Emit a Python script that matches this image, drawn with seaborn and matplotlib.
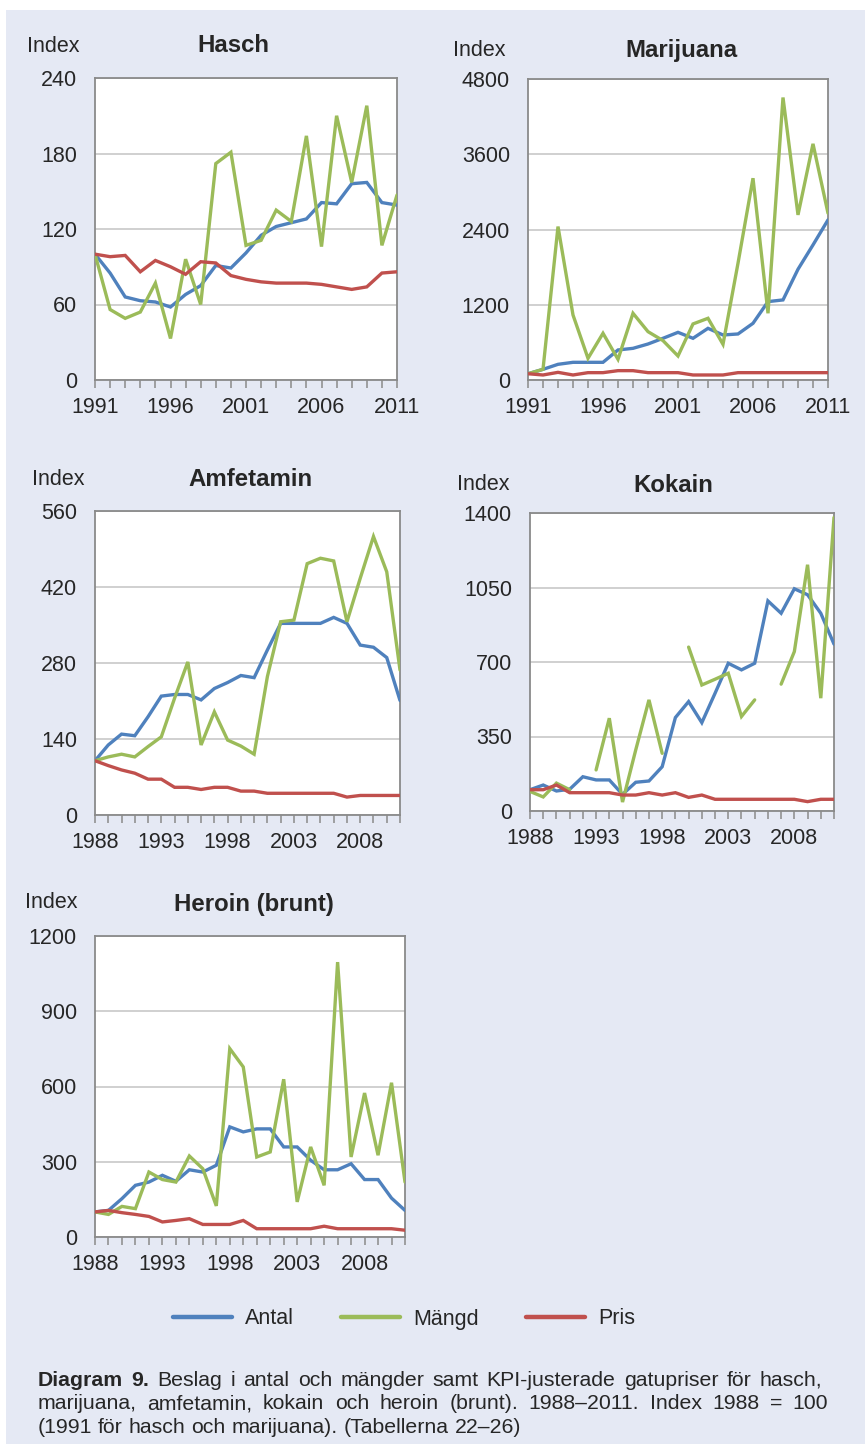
import numpy as np
import pandas as pd
import matplotlib
matplotlib.use("Agg")
import matplotlib.pyplot as plt
import seaborn as sns
from matplotlib.lines import Line2D
from matplotlib.patches import Rectangle

sns.set_style("white")
plt.rcParams['font.family'] = ['Liberation Sans', 'DejaVu Sans']

BLUE = '#4F81BD'
GREEN = '#9BBB59'
RED = '#C0504D'
BG = '#E5E9F4'
SPINE = '#8A8A8A'
GRID = '#C4C4C4'

# ---------------- data ----------------
series_names = ["Antal", "Mängd", "Pris"]
years_91 = list(range(1991, 2012))
years_88 = list(range(1988, 2012))
ticks_91 = [1991, 1996, 2001, 2006, 2011]
ticks_88 = [1988, 1993, 1998, 2003, 2008]

hasch_antal = [100, 85, 66, 63, 62, 58, 68, 75, 91, 89, 101, 115, 122, 125, 128, 141, 140, 156, 157, 141, 139]
hasch_mangd = [100, 56, 49, 54, 77, 33, 96, 60, 172, 181, 107, 111, 135, 126, 194, 106, 210, 157, 218, 107, 147]
hasch_pris = [100, 98, 99, 86, 95, 90, 84, 94, 93, 83, 80, 78, 77, 77, 77, 76, 74, 72, 74, 85, 86]

mari_antal = [100, 170, 250, 282, 282, 282, 479, 505, 574, 665, 760, 665, 824, 718, 734, 904, 1250, 1277, 1766, 2154, 2553]
mari_mangd = [100, 170, 2447, 1037, 346, 745, 330, 1064, 771, 628, 383, 894, 984, 569, 1862, 3218, 1064, 4505, 2633, 3766, 2660]
mari_pris = [100, 80, 122, 80, 117, 117, 149, 149, 117, 117, 117, 80, 80, 80, 117, 117, 117, 117, 117, 117, 117]

amf_antal = [100, 129, 149, 146, 181, 219, 222, 222, 212, 233, 244, 257, 253, 304, 353, 353, 353, 353, 364, 353, 313, 309, 290, 211]
amf_mangd = [100, 107, 112, 107, 126, 144, 215, 282, 129, 190, 138, 127, 112, 255, 356, 359, 463, 473, 468, 356, 436, 513, 448, 267]
amf_pris = [100, 91, 83, 77, 66, 66, 51, 51, 47, 51, 51, 44, 44, 40, 40, 40, 40, 40, 40, 33, 36, 36, 36, 36]

kok_antal = [100, 122, 94, 102, 161, 146, 146, 78, 135, 141, 208, 439, 514, 415, 553, 694, 663, 694, 987, 929, 1044, 1016, 929, 784]
kok_mangd = [92, 66, 131, 100, np.nan, 193, 436, 42, 287, 522, 271, np.nan, 770, 592, 619, 647, 444, 522, np.nan, 596, 749, 1157, 530, 1379]
kok_pris = [100, 100, 122, 86, 86, 86, 86, 75, 75, 86, 75, 86, 64, 75, 55, 55, 55, 55, 55, 55, 55, 44, 55, 55]

her_antal = [100, 106, 153, 206, 219, 246, 222, 268, 259, 286, 439, 419, 431, 431, 359, 359, 306, 268, 268, 292, 229, 229, 155, 106]
her_mangd = [100, 90, 122, 113, 259, 229, 219, 323, 272, 124, 751, 678, 319, 339, 629, 140, 359, 206, 1096, 319, 574, 326, 615, 219]
her_pris = [100, 106, 97, 90, 82, 60, 66, 73, 50, 50, 50, 66, 33, 33, 33, 33, 33, 43, 33, 33, 33, 33, 33, 27]

caption_bold = "Diagram 9."
caption_l1 = "Beslag i antal och mängder samt KPI-justerade gatupriser för hasch,"
caption_l2 = "marijuana, amfetamin, kokain och heroin (brunt). 1988–2011. Index 1988 = 100"
caption_l3 = "(1991 för hasch och marijuana). (Tabellerna 22–26)"

# ---------------- layout ----------------
W, H = 865, 1444
fig = plt.figure(figsize=(W / 100, H / 100), dpi=100)
fig.patch.set_facecolor('white')
fig.patches.append(Rectangle((6 / W, 0), 1 - 6 / W, 1 - 10 / H, transform=fig.transFigure,
                             facecolor=BG, edgecolor='none', zorder=-10))


def fx(px):
    return px / W


def fy(py):
    return 1 - py / H


def make_ax(l, t, r, b):
    return fig.add_axes([fx(l), fy(b), (r - l) / W, (b - t) / H])


TICK_FS = 15.5
TITLE_FS = 17.3


def draw_panel(box, title, title_xy, index_xy, years, ticks, ymax, ystep, antal, mangd, pris):
    ax = make_ax(*box)
    ax.set_facecolor('white')
    for vals, col, z in [(antal, BLUE, 3), (mangd, GREEN, 4), (pris, RED, 5)]:
        df = pd.DataFrame({"year": years, "value": vals})
        run_id = df["value"].isna().cumsum()
        for _, seg in df[df["value"].notna()].groupby(run_id[df["value"].notna()]):
            sns.lineplot(data=seg, x="year", y="value", color=col, lw=2.4, ax=ax,
                         legend=False, zorder=z, solid_joinstyle='miter')
    ax.set_xlim(years[0], years[-1])
    ax.set_ylim(0, ymax)
    ax.set_yticks(np.arange(0, ymax + 1, ystep))
    ax.set_xticks(ticks)
    ax.set_xticks(years, minor=True)
    ax.set_xlabel("")
    ax.set_ylabel("")
    ax.grid(axis='y', color=GRID, lw=1.1, zorder=0)
    ax.set_axisbelow(True)
    ax.tick_params(axis='x', which='both', bottom=True, direction='out', length=5.5,
                   width=1.1, color=SPINE, labelsize=TICK_FS, pad=7)
    ax.tick_params(axis='y', which='both', left=False, length=0, labelsize=TICK_FS, pad=13)
    for s in ax.spines.values():
        s.set_color(SPINE)
        s.set_linewidth(1.3)
        s.set_visible(True)
    fig.text(fx(title_xy[0]), fy(title_xy[1]), title, ha='center', va='center',
             fontsize=TITLE_FS, fontweight='bold')
    fig.text(fx(index_xy[0]), fy(index_xy[1]), "Index", ha='left', va='center', fontsize=TICK_FS)
    return ax


draw_panel((95, 78, 397, 380), "Hasch", (233, 46), (27, 47), years_91, ticks_91, 240, 60,
           hasch_antal, hasch_mangd, hasch_pris)
draw_panel((528, 79, 828, 380), "Marijuana", (681, 50), (453, 50), years_91, ticks_91, 4800, 1200,
           mari_antal, mari_mangd, mari_pris)
draw_panel((95, 511, 400, 815), "Amfetamin", (250, 480), (32, 480), years_88, ticks_88, 560, 140,
           amf_antal, amf_mangd, amf_pris)
draw_panel((530, 513, 834, 811), "Kokain", (673, 485), (457, 484), years_88, ticks_88, 1400, 350,
           kok_antal, kok_mangd, kok_pris)
draw_panel((95, 936, 405, 1237), "Heroin (brunt)", (254, 905), (25, 902), years_88, ticks_88, 1200, 300,
           her_antal, her_mangd, her_pris)

# ---------------- legend ----------------
handles = [Line2D([], [], color=c, lw=3.2) for c in (BLUE, GREEN, RED)]
fig.legend(handles, series_names, loc='center', bbox_to_anchor=(fx(404), fy(1319)), ncol=3,
           frameon=False, fontsize=TICK_FS, handlelength=2.75, handletextpad=0.6,
           columnspacing=2.2, borderaxespad=0, borderpad=0)

# ---------------- caption (justified) ----------------
CAP_FS = 15.3
renderer = fig.canvas.get_renderer()


def word_width(word, bold):
    t = fig.text(0, 0, word, fontsize=CAP_FS, fontweight='bold' if bold else 'normal')
    w = t.get_window_extent(renderer).width
    t.remove()
    return w


def place_line(words, x0, x1, base_y, justify):
    widths = [word_width(w, b) for w, b in words]
    if justify and len(words) > 1:
        gap = (x1 - x0 - sum(widths)) / (len(words) - 1)
    else:
        gap = word_width("a b", False) - word_width("ab", False)
    x = x0
    for (w, b), wd in zip(words, widths):
        fig.text(fx(x), fy(base_y), w, fontsize=CAP_FS, fontweight='bold' if b else 'normal',
                 ha='left', va='baseline')
        x += wd + gap


line1 = [(w, True) for w in caption_bold.split()] + [(w, False) for w in caption_l1.split()]
line2 = [(w, False) for w in caption_l2.split()]
line3 = [(w, False) for w in caption_l3.split()]
place_line(line1, 38, 822, 1386, True)
place_line(line2, 38, 828, 1409, True)
place_line(line3, 38, 828, 1433, False)

fig.savefig("out.png", dpi=100, facecolor=fig.get_facecolor())
